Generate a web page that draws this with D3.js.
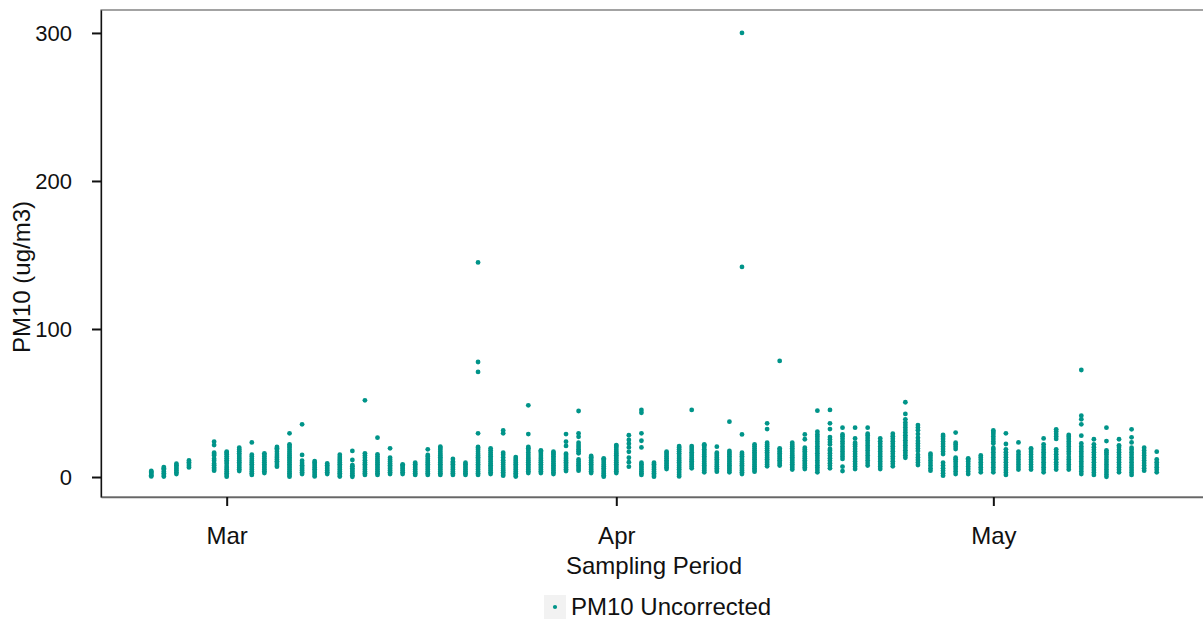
<!DOCTYPE html>
<html>
<head>
<meta charset="utf-8">
<script src="https://cdn.jsdelivr.net/npm/d3@7"></script>
<style>
  body { margin: 0; background: #fff; }
  svg text { font-family: "Liberation Sans", Arial, sans-serif; fill: #111; }
</style>
</head>
<body>
<div id="chart"></div>
<script>
// sampling days (one strip of readings per day)
const days = [
  '2021-02-23', '2021-02-24', '2021-02-25', '2021-02-26', '2021-02-28',
  '2021-03-01', '2021-03-02', '2021-03-03', '2021-03-04', '2021-03-05', '2021-03-06', '2021-03-07', '2021-03-08',
  '2021-03-09', '2021-03-10', '2021-03-11', '2021-03-12', '2021-03-13', '2021-03-14', '2021-03-15', '2021-03-16',
  '2021-03-17', '2021-03-18', '2021-03-19', '2021-03-20', '2021-03-21', '2021-03-22', '2021-03-23', '2021-03-24',
  '2021-03-25', '2021-03-26', '2021-03-27', '2021-03-28', '2021-03-29', '2021-03-30', '2021-03-31',
  '2021-04-01', '2021-04-02', '2021-04-03', '2021-04-04', '2021-04-05', '2021-04-06', '2021-04-07', '2021-04-08',
  '2021-04-09', '2021-04-10', '2021-04-11', '2021-04-12', '2021-04-13', '2021-04-14', '2021-04-15', '2021-04-16',
  '2021-04-17', '2021-04-18', '2021-04-19', '2021-04-20', '2021-04-21', '2021-04-22', '2021-04-23', '2021-04-24',
  '2021-04-25', '2021-04-26', '2021-04-27', '2021-04-28', '2021-04-29', '2021-04-30',
  '2021-05-01', '2021-05-02', '2021-05-03', '2021-05-04', '2021-05-05', '2021-05-06', '2021-05-07', '2021-05-08',
  '2021-05-09', '2021-05-10', '2021-05-11', '2021-05-12', '2021-05-13', '2021-05-14'
]

// PM10 uncorrected readings (ug/m3), one list per sampling day
const pm10 = [
  [0.4, 1.2, 2.0, 2.8, 3.5, 4.1],
  [0.3, 1.4, 2.6, 3.8, 5.0, 6.0, 6.7],
  [2.0, 3.2, 4.4, 5.6, 6.8, 8.0, 9.0],
  [6.5, 7.6, 8.8, 10.0, 11.2],
  [4.3, 5.4, 6.5, 8.0, 9.2, 11.0, 12.4, 14.6, 15.6, 16.4, 21.6, 23.9],
  [0.2, 1.4, 2.6, 3.8, 5.0, 6.2, 7.4, 9.0, 10.2, 11.4, 12.6, 14.0, 15.4, 16.4, 17.1],
  [4.0, 5.2, 6.4, 7.6, 8.8, 10.0, 11.2, 12.4, 13.6, 14.8, 16.0, 17.4, 18.6, 19.8],
  [1.4, 2.6, 3.8, 5.0, 6.2, 7.4, 8.6, 9.8, 11.0, 12.4, 13.8, 15.1, 23.4],
  [2.7, 3.9, 5.1, 6.3, 7.5, 8.7, 9.9, 11.2, 12.5, 13.8, 15.0, 16.0],
  [7.0, 8.2, 9.4, 10.6, 11.8, 13.0, 14.2, 15.6, 17.0, 18.4, 19.4, 20.3],
  [0.2, 1.4, 2.6, 3.8, 5.0, 6.2, 7.4, 8.6, 9.8, 11.0, 12.2, 13.4, 14.6, 15.8, 17.0, 18.4, 19.8, 21.0, 22.1, 29.5],
  [2.0, 3.2, 4.4, 5.6, 6.8, 8.0, 9.4, 11.0, 14.9, 35.6],
  [0.4, 1.6, 2.8, 4.0, 5.2, 6.4, 7.6, 8.8, 9.8, 10.8],
  [2.0, 3.2, 4.4, 5.6, 6.8, 8.0, 9.2],
  [0.3, 1.4, 2.6, 3.8, 5.0, 6.2, 7.4, 8.6, 9.8, 11.0, 12.2, 13.6, 15.1],
  [0.1, 1.2, 2.4, 3.6, 4.8, 6.0, 7.2, 8.1, 11.5, 17.6],
  [1.4, 2.6, 3.8, 5.0, 6.2, 7.4, 8.6, 9.8, 11.4, 13.0, 14.6, 16.0, 51.8],
  [1.4, 2.6, 3.8, 5.0, 6.2, 7.4, 8.6, 9.8, 11.0, 12.4, 13.8, 15.3, 26.6],
  [2.0, 3.2, 4.4, 5.6, 6.8, 8.0, 9.2, 10.4, 11.7, 13.0, 19.4],
  [2.0, 3.2, 4.4, 5.6, 6.8, 7.8, 8.6],
  [1.4, 2.6, 3.8, 5.0, 6.2, 7.4, 8.6, 9.7],
  [1.4, 2.6, 3.8, 5.0, 6.2, 7.4, 8.6, 9.8, 11.0, 12.4, 13.8, 14.9, 18.7],
  [1.4, 2.6, 3.8, 5.0, 6.2, 7.4, 8.6, 9.8, 11.0, 12.2, 13.4, 14.6, 15.8, 17.0, 18.4, 19.6, 20.5],
  [1.4, 2.6, 3.8, 5.0, 6.2, 7.4, 8.6, 9.6, 10.4, 12.2],
  [1.4, 2.6, 3.8, 5.0, 6.2, 7.4, 8.6, 9.7],
  [1.4, 2.6, 3.8, 5.0, 6.2, 7.4, 8.6, 9.8, 11.0, 12.2, 13.4, 14.6, 15.8, 17.0, 18.4, 19.6, 20.3, 29.5, 71.0, 77.7, 145.0],
  [2.0, 3.2, 4.4, 5.6, 6.8, 8.0, 9.2, 10.4, 11.6, 12.8, 14.0, 15.2, 16.6, 18.0, 19.4],
  [0.9, 2.0, 3.2, 4.4, 5.6, 7.0, 8.4, 9.8, 11.4, 13.2, 15.0, 16.4, 29.5, 31.5],
  [0.3, 1.4, 2.6, 3.8, 5.0, 6.2, 7.4, 8.6, 9.8, 11.0, 12.2, 13.5],
  [2.7, 3.9, 5.1, 6.3, 7.5, 8.7, 9.9, 11.1, 12.3, 13.6, 15.0, 16.6, 18.2, 19.4, 20.3, 29.0, 48.4],
  [2.7, 3.9, 5.1, 6.3, 7.5, 8.7, 9.9, 11.1, 12.3, 13.5, 14.8, 16.2, 17.2, 18.0],
  [2.0, 3.2, 4.4, 5.6, 6.8, 8.0, 9.2, 10.4, 11.6, 12.8, 14.0, 15.2, 16.2, 17.1],
  [4.0, 5.2, 6.4, 7.6, 8.8, 10.0, 11.2, 12.4, 13.6, 14.8, 15.8, 21.0, 23.9, 29.0],
  [4.3, 5.5, 6.7, 7.9, 9.1, 10.4, 11.9, 16.0, 17.4, 18.8, 20.2, 21.6, 23.2, 27.2, 29.5, 44.6],
  [2.7, 3.9, 5.1, 6.3, 7.5, 8.7, 9.9, 11.1, 12.3, 13.4, 14.2],
  [0.2, 1.2, 2.4, 3.6, 4.8, 6.0, 7.2, 8.4, 9.6, 10.8, 11.8, 12.6],
  [2.7, 3.9, 5.1, 6.3, 7.5, 8.7, 9.9, 11.1, 12.3, 13.5, 14.7, 15.9, 17.1, 18.4, 19.8, 21.0, 21.6],
  [7.0, 10.0, 13.0, 17.0, 20.0, 22.5, 25.0, 28.2],
  [1.4, 2.6, 3.8, 5.0, 6.2, 7.4, 8.6, 9.7, 20.0, 24.5, 29.5, 43.4, 45.3],
  [0.2, 1.4, 2.6, 3.8, 5.0, 6.2, 7.4, 8.6, 9.7],
  [5.4, 6.6, 7.8, 9.0, 10.2, 11.4, 12.6, 13.8, 15.0, 16.2, 17.1],
  [0.4, 1.6, 2.8, 4.0, 5.2, 6.4, 7.6, 8.8, 10.0, 11.2, 12.4, 13.6, 14.8, 16.0, 17.4, 18.8, 20.0, 20.9],
  [5.9, 7.1, 8.3, 9.5, 10.7, 11.9, 13.1, 14.3, 15.5, 16.8, 18.2, 19.6, 20.9, 45.3],
  [3.2, 4.4, 5.6, 6.8, 8.0, 9.2, 10.4, 11.6, 12.8, 14.0, 15.2, 16.4, 17.6, 18.8, 20.2, 21.4, 22.1],
  [3.6, 4.8, 6.0, 7.2, 8.4, 9.6, 10.8, 12.0, 13.2, 14.4, 15.6, 16.4, 20.5],
  [3.2, 4.4, 5.6, 6.8, 8.0, 9.2, 10.4, 11.6, 12.8, 14.0, 15.2, 16.4, 17.6, 37.4],
  [2.0, 3.2, 4.4, 5.6, 6.8, 8.0, 9.2, 10.4, 11.6, 12.8, 14.0, 15.2, 16.4, 28.8, 141.9, 300.0],
  [3.6, 4.8, 6.0, 7.2, 8.4, 9.6, 10.8, 12.0, 13.2, 14.4, 15.6, 16.8, 18.0, 19.4, 20.8, 22.1],
  [7.2, 8.4, 9.6, 10.8, 12.0, 13.2, 14.4, 15.6, 16.8, 18.0, 19.4, 20.8, 22.0, 23.2, 32.4, 36.3],
  [7.7, 8.9, 10.1, 11.3, 12.5, 13.7, 14.9, 16.1, 17.3, 18.5, 19.4, 78.4],
  [5.0, 6.2, 7.4, 8.6, 9.8, 11.0, 12.2, 13.4, 14.6, 15.8, 17.0, 18.2, 19.4, 20.6, 21.8, 23.2],
  [5.4, 6.6, 7.8, 9.0, 10.2, 11.4, 12.6, 13.8, 15.0, 16.2, 17.4, 18.6, 19.8, 25.5, 28.8],
  [3.2, 4.8, 6.4, 8.0, 9.6, 11.2, 12.8, 14.4, 16.0, 17.6, 19.2, 20.8, 22.4, 24.0, 25.6, 27.2, 28.8, 30.6, 44.8],
  [5.9, 7.6, 9.3, 11.0, 12.7, 14.4, 16.1, 17.8, 19.0, 22.0, 23.6, 25.3, 27.0, 32.4, 36.3, 45.3],
  [4.0, 7.0, 12.2, 13.9, 15.6, 17.3, 19.0, 20.7, 22.4, 24.1, 25.8, 27.5, 28.8, 33.3],
  [5.4, 7.1, 8.8, 10.5, 12.2, 13.9, 15.6, 17.3, 19.0, 20.7, 22.0, 23.2, 26.1, 33.3],
  [7.7, 9.4, 11.1, 12.8, 14.5, 16.2, 17.9, 19.6, 21.3, 23.0, 24.7, 26.4, 28.0, 29.3, 33.3],
  [5.4, 7.1, 8.8, 10.5, 12.2, 13.9, 15.6, 17.3, 19.0, 20.7, 22.4, 24.1, 26.1],
  [7.2, 8.9, 10.6, 12.3, 14.0, 15.7, 17.4, 19.1, 20.8, 22.5, 24.2, 25.9, 27.6, 29.3],
  [13.0, 14.7, 16.4, 18.1, 19.8, 21.5, 23.2, 24.9, 26.6, 28.3, 30.0, 31.7, 33.4, 35.1, 36.8, 39.0, 42.6, 50.5],
  [8.1, 9.8, 11.5, 13.2, 15.0, 17.5, 19.2, 21.0, 22.7, 24.4, 26.5, 29.0, 31.6, 33.4, 35.1],
  [4.3, 6.0, 7.7, 9.4, 11.1, 12.8, 14.4, 15.8],
  [0.9, 2.6, 4.3, 6.0, 7.7, 9.7, 15.5, 17.2, 18.9, 20.6, 22.3, 24.0, 25.7, 27.2, 28.4],
  [2.0, 3.7, 5.4, 7.1, 8.8, 10.5, 12.0, 13.0, 18.9, 20.4, 21.9, 23.2, 30.0],
  [2.0, 3.7, 5.4, 7.1, 8.8, 10.5, 11.8, 12.6],
  [3.2, 4.9, 6.6, 8.3, 10.0, 11.7, 13.2, 14.6],
  [3.2, 4.9, 6.6, 8.3, 10.0, 11.7, 13.4, 15.1, 16.8, 18.5, 19.6, 22.6, 24.0, 25.7, 27.4, 29.1, 30.4, 31.5],
  [1.4, 3.1, 4.8, 6.5, 8.2, 9.9, 11.6, 13.3, 15.0, 16.7, 18.7, 22.3, 29.5],
  [5.0, 6.7, 8.4, 10.1, 11.8, 13.5, 15.2, 17.1, 23.4],
  [5.0, 6.7, 8.4, 10.1, 11.8, 13.5, 15.2, 16.9, 18.4, 19.4],
  [3.2, 4.9, 6.6, 8.3, 10.0, 11.7, 13.4, 15.1, 16.8, 18.5, 20.2, 22.1, 26.1],
  [5.0, 6.7, 8.4, 10.0, 12.0, 13.6, 15.3, 17.0, 18.7, 25.7, 27.4, 29.1, 30.8, 32.2],
  [5.0, 6.7, 8.4, 10.1, 11.8, 13.5, 15.5, 17.2, 18.9, 20.6, 22.3, 24.0, 25.7, 27.2, 28.4],
  [2.0, 3.7, 5.4, 7.1, 8.8, 10.5, 12.2, 13.9, 15.6, 17.3, 19.0, 20.7, 22.7, 27.9, 35.6, 39.0, 41.4, 72.3],
  [1.4, 3.1, 4.8, 6.5, 8.2, 9.9, 11.6, 13.3, 15.0, 16.7, 18.4, 20.1, 22.1, 25.5],
  [0.1, 1.7, 3.4, 5.1, 6.8, 8.5, 10.2, 11.9, 13.6, 15.3, 16.8, 18.0, 24.3, 33.3],
  [3.2, 4.9, 6.6, 8.3, 10.0, 11.7, 13.4, 15.1, 16.8, 18.5, 20.2, 21.4, 25.5],
  [1.4, 3.1, 4.8, 6.5, 8.2, 9.9, 11.6, 13.3, 15.0, 16.7, 18.4, 19.8, 23.4, 26.8, 32.2],
  [4.3, 6.0, 7.7, 9.4, 11.1, 12.8, 14.5, 16.2, 17.9, 19.8],
  [3.2, 4.9, 6.6, 8.3, 10.0, 11.9, 17.1]
]

const xDomain = ['2021-02-19', '2021-05-18']
const yDomain = [-13.5, 315.5]
const yTicks = [0, 100, 200, 300]
const monthTicks = ['2021-03-01', '2021-04-01', '2021-05-01']
const seriesName = 'PM10 Uncorrected'

const pointColor = '#009489'
const width = 1203
const height = 624
const margin = { top: 10, right: -4, bottom: 127, left: 101 }

const parse = d3.utcParse('%Y-%m-%d')
const points = days.flatMap((day, i) => pm10[i].map((v) => ({ date: parse(day), value: v })))

const x = d3.scaleUtc()
    .domain(xDomain.map(parse))
    .range([margin.left, width - margin.right])
const y = d3.scaleLinear()
    .domain(yDomain)
    .range([height - margin.bottom, margin.top])

const svg = d3.select('#chart')
    .append('svg')
    .attr('width', width)
    .attr('height', height)

//panel border
svg.append('rect')
    .attr('x', margin.left)
    .attr('y', margin.top)
    .attr('width', width - margin.right - margin.left)
    .attr('height', height - margin.bottom - margin.top)
    .attr('fill', 'none')
    .attr('stroke', '#666')
    .attr('stroke-width', 1.2)

//points
svg.append('g')
    .selectAll('circle')
    .data(points)
    .enter()
    .append('circle')
    .attr('cx', (d) => x(d.date))
    .attr('cy', (d) => y(d.value))
    .attr('r', 2.4)
    .attr('fill', pointColor)

//axes
const yAxis = svg.append('g')
    .attr('transform', `translate(${margin.left},0)`)
    .call(d3.axisLeft(y).tickValues(yTicks).tickSize(9).tickSizeOuter(0).tickPadding(20))
yAxis.select('.domain').attr('stroke', '#111').attr('stroke-width', 1.3)
yAxis.selectAll('.tick line').attr('stroke', '#111').attr('stroke-width', 2)
yAxis.selectAll('text').style('font-size', '22px').attr('dy', '0.36em')

const xAxis = svg.append('g')
    .attr('transform', `translate(0,${height - margin.bottom})`)
    .call(d3.axisBottom(x).tickValues(monthTicks.map(parse)).tickFormat(d3.utcFormat('%b'))
        .tickSize(9).tickSizeOuter(0).tickPadding(21))
xAxis.select('.domain').attr('stroke', '#666').attr('stroke-width', 1.3)
xAxis.selectAll('.tick line').attr('stroke', '#111').attr('stroke-width', 2)
xAxis.selectAll('text').style('font-size', '24px')

//titles
svg.append('text')
    .attr('x', (margin.left + width - margin.right) / 2)
    .attr('y', 574)
    .attr('text-anchor', 'middle')
    .style('font-size', '24px')
    .text('Sampling Period')
svg.append('text')
    .attr('transform', 'translate(30,277) rotate(-90)')
    .attr('text-anchor', 'middle')
    .style('font-size', '24px')
    .text('PM10 (ug/m3)')

//legend
const legend = svg.append('g').attr('transform', 'translate(544,595)')
legend.append('rect')
    .attr('width', 22)
    .attr('height', 24)
    .attr('fill', '#f2f2f2')
legend.append('circle')
    .attr('cx', 11)
    .attr('cy', 12)
    .attr('r', 2.1)
    .attr('fill', pointColor)
legend.append('text')
    .attr('x', 27)
    .attr('y', 20)
    .style('font-size', '24px')
    .text(seriesName)
</script>
</body>
</html>
